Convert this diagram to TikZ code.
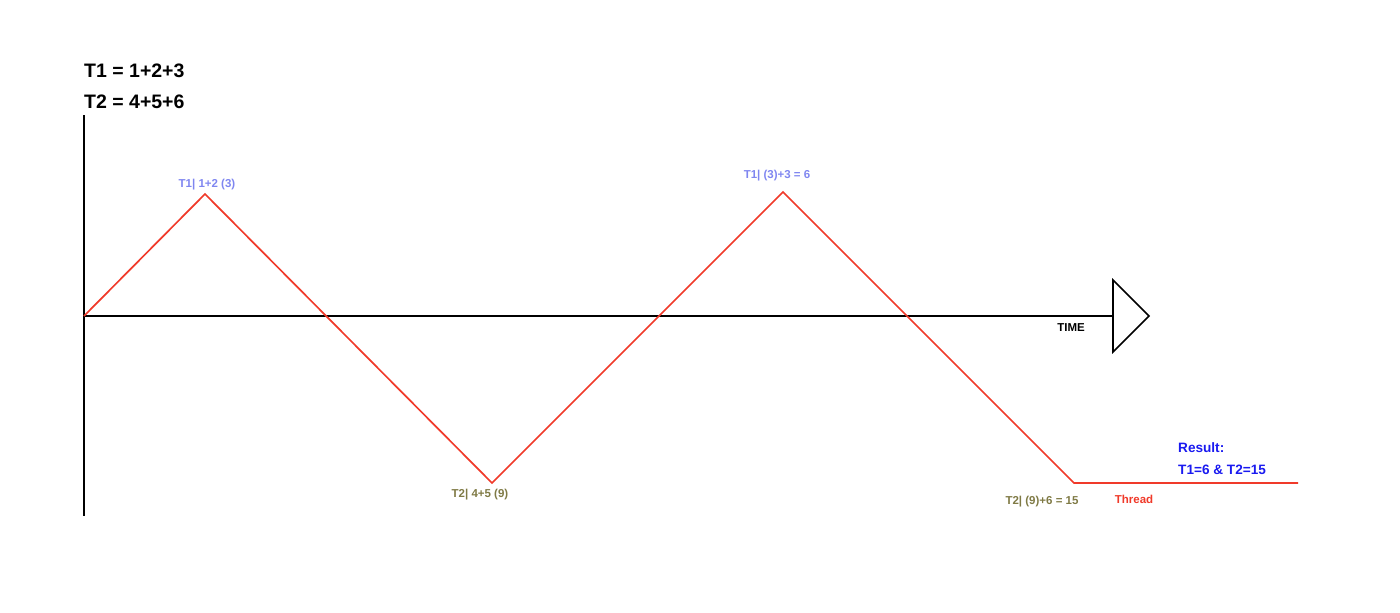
\documentclass[tikz,border=0pt]{standalone}
\usepackage{fontspec}
\setmainfont{Liberation Sans}
\definecolor{thr}{HTML}{F03A2A}
\definecolor{lblue}{HTML}{7F86F0}
\definecolor{olive}{HTML}{7F7A45}
\definecolor{rblue}{HTML}{1A1AF0}
\tikzset{
  lbl/.style={inner sep=0pt, font=\bfseries\fontsize{11.5}{12}\selectfont},
  big/.style={inner sep=0pt, anchor=west, font=\bfseries\fontsize{19.5}{22}\selectfont},
  res/.style={inner sep=0pt, anchor=west, text=rblue, font=\bfseries\fontsize{13.6}{15}\selectfont},
  axis/.style={line width=1.6pt, black},
  thread/.style={line width=1.7pt, thr, line join=miter}
}
\begin{document}
\begin{tikzpicture}[x=1pt,y=-1pt]
\useasboundingbox (0,0) rectangle (1400,613);
% axes
\coordinate (vt) at (84,115);
\coordinate (vb) at (84,516);
\coordinate (o) at (84,316);
\coordinate (he) at (1113,316);
\draw[axis] (vt) -- (vb);
\draw[axis] (o) -- (he);
\coordinate (ta) at (1113,280);
\coordinate (tb) at (1149,316);
\coordinate (tc) at (1113,352);
\draw[axis, line join=miter] (ta) -- (tb) -- (tc) -- cycle;
% thread
\coordinate (p1) at (205,194);
\coordinate (p2) at (492,483);
\coordinate (p3) at (783,192);
\coordinate (p4) at (1074,483);
\coordinate (p5) at (1298,483);
\draw[thread] (o) -- (p1) -- (p2) -- (p3) -- (p4) -- (p5);
% texts
\node[big] (t1) at (84,71) {T1 = 1+2+3};
\node[big] (t2) at (84,102) {T2 = 4+5+6};
\node[lbl, text=lblue] (l1) at (207,185) {T1| 1+2 (3)};
\node[lbl, text=lblue] (l2) at (777,176) {T1| (3)+3 = 6};
\node[lbl, text=olive] (l3) at (480,495) {T2| 4+5 (9)};
\node[lbl, text=olive] (l4) at (1042,502) {T2| (9)+6 = 15};
\node[lbl, text=thr] (th) at (1134,499) {Thread};
\node[lbl, text=black] (time) at (1071,328) {TIME};
\node[res] (r1) at (1178,448) {Result:};
\node[res] (r2) at (1178,470) {T1=6 \& T2=15};
\end{tikzpicture}
\end{document}
